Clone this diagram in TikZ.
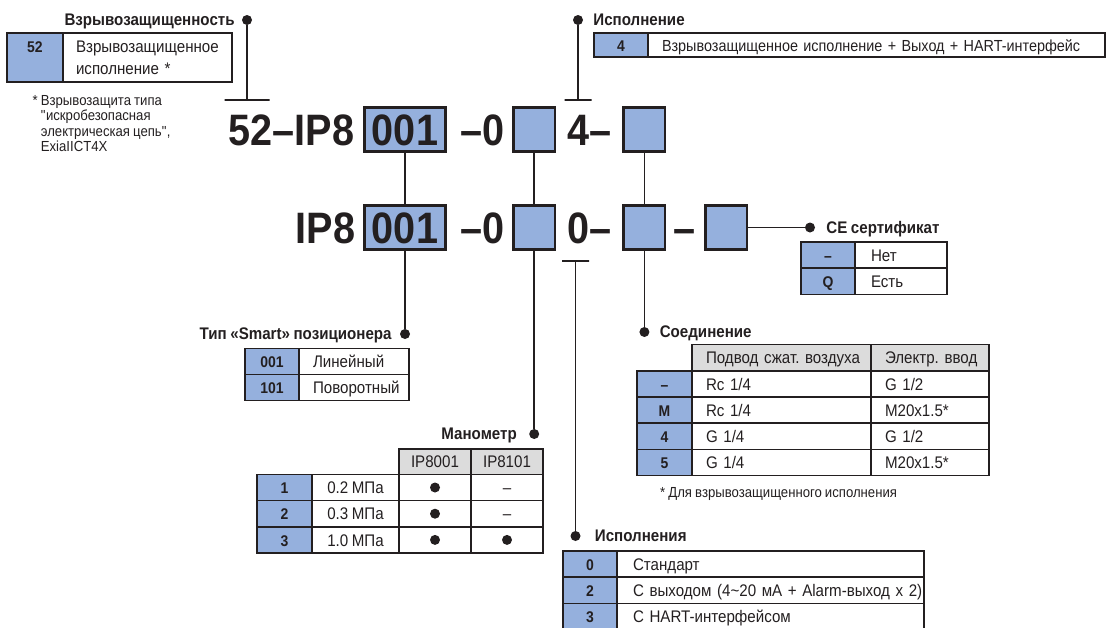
\documentclass[tikz,border=0pt]{standalone}
\usepackage{fontspec}
\setmainfont{Liberation Sans}[FakeStretch=0.9,WordSpace=0.85]
\usetikzlibrary{positioning}
\frenchspacing

\definecolor{ipblue}{RGB}{149,176,221}
\definecolor{ipgray}{RGB}{220,220,220}
\definecolor{ink}{RGB}{35,31,32}

\newcommand\codefont{\bfseries\fontsize{44}{44}\selectfont}
\newcommand\headfont{\bfseries\fontsize{16.8}{19}\selectfont}
\newcommand\cellfont{\fontsize{16.8}{21.7}\selectfont}
\newcommand\keyfont{\bfseries\fontsize{15.5}{18}\selectfont}
\newcommand\notefont{\fontsize{14.6}{15.5}\selectfont}

\tikzset{
  codebox/.style={draw=ink,line width=2.6pt,fill=ipblue,minimum height=44.5pt,inner sep=0pt,outer sep=0pt,font=\codefont,text=ink,text height=31.5pt,text depth=0pt},
  codetxt/.style={inner sep=0pt,font=\codefont,text=ink,text height=31.5pt,text depth=0pt},
  wire/.style={draw=ink,line width=1.8pt},
  tbar/.style={draw=ink,line width=1.8pt,inner sep=0pt,minimum height=0pt,minimum width=#1},
  dot/.style={circle,fill=ink,inner sep=0pt,minimum size=10pt},
  head/.style={inner sep=0pt,font=\headfont,text=ink,text height=13pt,text depth=1.6pt},
  cellbox/.style={draw=ink,line width=1.5pt,inner ysep=0pt,outer sep=0pt,font=\cellfont,text=ink},
  cell/.style={cellbox,minimum height=26.2pt,text height=13.5pt,text depth=1.3pt},
  key/.style={cell,fill=ipblue,font=\keyfont},
  hdr/.style={cell,fill=ipgray},
  lcell/.style={cell,inner xsep=14pt,text width=#1-28pt,align=left},
  note/.style={inner sep=0pt,font=\notefont,align=left,text=ink},
}

\begin{document}
\begin{tikzpicture}[x=1pt,y=-1pt]
\useasboundingbox (0,0) rectangle (1107,627);
% first code line
\node[codebox,minimum width=81.5pt] (a1) at (405,129.5) {001};
\node[codebox,minimum width=41.5pt] (a2) at (534.2,129.5) {};
\node[codebox,minimum width=41.5pt] (a3) at (644.4,129.5) {};
\node[codetxt,left=10pt of a1] (a0) {52–IP8};
\node[codetxt,left=9pt of a2] {–0};
\node[codetxt,left=12pt of a3] {4–};
% second code line
\node[codebox,minimum width=81.5pt] (b1) at (405,227.5) {001};
\node[codebox,minimum width=41.5pt] (b2) at (534.2,227.5) {};
\node[codebox,minimum width=41.5pt] (b3) at (644.4,227.5) {};
\node[codebox,minimum width=41.5pt] (b4) at (726.2,227.5) {};
\node[codetxt,left=9pt of b1] (b0) {IP8};
\node[codetxt,left=9pt of b2] {–0};
\node[codetxt,left=12pt of b3] {0–};
\node[codetxt,left=9.5pt of b4] {–};
% branch labels
\node[dot] (dexp) at (247,20) {};
\node[head,left=7pt of dexp] {Взрывозащищенность};
\node[tbar=45pt] (texp) at (247,100) {};
\node[dot] (dver) at (578,20) {};
\node[head,right=10pt of dver] {Исполнение};
\node[tbar=27pt] (tver) at (578,100) {};
\node[tbar=27pt] (tisp) at (575.5,261) {};
\node[dot] (dsmart) at (405,334) {};
\node[head,left=8pt of dsmart] {Тип «Smart» позиционера};
\node[dot] (dman) at (534.2,434) {};
\node[head,left=12pt of dman] {Манометр};
\node[dot] (dcon) at (644.4,332) {};
\node[head,right=10pt of dcon] {Соединение};
\node[dot] (dce) at (810,227.5) {};
\node[head,right=11pt of dce] {CE сертификат};
\node[dot] (disp) at (575.5,536) {};
\node[head,right=14pt of disp] {Исполнения};
\path[wire] (dexp) edge (texp) (dver) edge (tver)
  (a1) edge (b1) (a2) edge (b2) (a3) edge (b3)
  (b1) edge (dsmart) (b2) edge (dman) (b3) edge (dcon)
  (b4) edge (dce) (tisp) edge (disp);
% Взрывозащищенность
\node[key,minimum width=56pt,minimum height=49pt] (kexp) at (35,57.5) {};
\node[inner sep=0pt,font=\keyfont,text=ink,below=8pt of kexp.north] {52};
\node[cellbox,right=0pt of kexp,minimum height=49pt,text width=143pt,inner xsep=13pt,align=left] (vexp) {Взрывозащищенное\\исполнение *};
\node[note,anchor=north west] (nexp) at (40.7,95) {\llap{* }Взрывозащита типа\\\textquotedbl искробезопасная\\электрическая цепь\textquotedbl,\\ExiaIICT4X};
% Исполнение (52)
\node[key,minimum width=54pt,minimum height=24pt] (kver) at (621,45) {4};
\node[lcell=457pt,right=0pt of kver,minimum height=24pt,font=\fontsize{16}{20}\selectfont] (vver) {\mbox{Взрывозащищенное исполнение + Выход + HART-интерфейс}};
% CE сертификат
\foreach \code/\desc [count=\i] in {–/Нет,Q/Есть}{
  \node[key,minimum width=54pt] (kce\i) at (828,{228.9+26.2*\i}) {\code};
  \node[lcell=88pt,inner xsep=16pt,right=0pt of kce\i] {\mbox{\desc}};
}
% Соединение
\node[hdr,lcell=179pt] (hcon1) at (781.5,357.7) {\mbox{Подвод сжат. воздуха}};
\node[hdr,lcell=118pt,right=0pt of hcon1] (hcon2) {\mbox{Электр. ввод}};
\foreach \code/\air/\elec [count=\i] in {–/{Rc 1/4}/{G 1/2},M/{Rc 1/4}/{M20x1.5*},4/{G 1/4}/{G 1/2},5/{G 1/4}/{M20x1.5*}}{
  \node[key,minimum width=55pt] (kcon\i) at (664.5,{357.7+26.2*\i}) {\code};
  \node[lcell=179pt,right=0pt of kcon\i] (pcon\i) {\mbox{\air}};
  \node[lcell=118pt,right=0pt of pcon\i] {\mbox{\elec}};
}
\node[note,anchor=base west] (ncon) at (660,497) {* Для взрывозащищенного исполнения};
% Тип позиционера
\foreach \code/\desc [count=\i] in {001/Линейный,101/Поворотный}{
  \node[key,minimum width=54pt] (ksm\i) at (272,{335.2+26.2*\i}) {\code};
  \node[lcell=110pt,right=0pt of ksm\i] {\mbox{\desc}};
}
% Манометр
\node[hdr,minimum width=72pt,minimum height=25.2pt] (hman1) at (435,461.8) {IP8001};
\node[hdr,minimum width=72pt,minimum height=25.2pt,right=0pt of hman1] (hman2) {IP8101};
\foreach \code/\mpa/\flag [count=\i] in {1/0.2 МПа/0,2/0.3 МПа/0,3/1.0 МПа/1}{
  \node[key,minimum width=55pt] (kman\i) at (284.5,{461.3+26.2*\i}) {\code};
  \node[cell,minimum width=87pt,right=0pt of kman\i] (pman\i) {\mpa};
  \node[cell,minimum width=72pt,right=0pt of pman\i] (aman\i) {};
  \node[cell,minimum width=72pt,right=0pt of aman\i] (bman\i) {\ifnum\flag=0 –\fi};
  \node[dot] at (aman\i) {};
  \ifnum\flag=1 \node[dot] at (bman\i) {};\fi
}
% Исполнения
\foreach \code/\desc [count=\i] in {0/Стандарт,2/{С выходом (4\textasciitilde20 мА + Alarm-выход x 2)},3/С HART-интерфейсом}{
  \node[key,minimum width=54pt] (kisp\i) at (590,{537.9+26.2*\i}) {\code};
  \node[lcell=307pt,inner xsep=16pt,text width=275pt,right=0pt of kisp\i] {\mbox{\desc}};
}
\end{tikzpicture}
\end{document}
